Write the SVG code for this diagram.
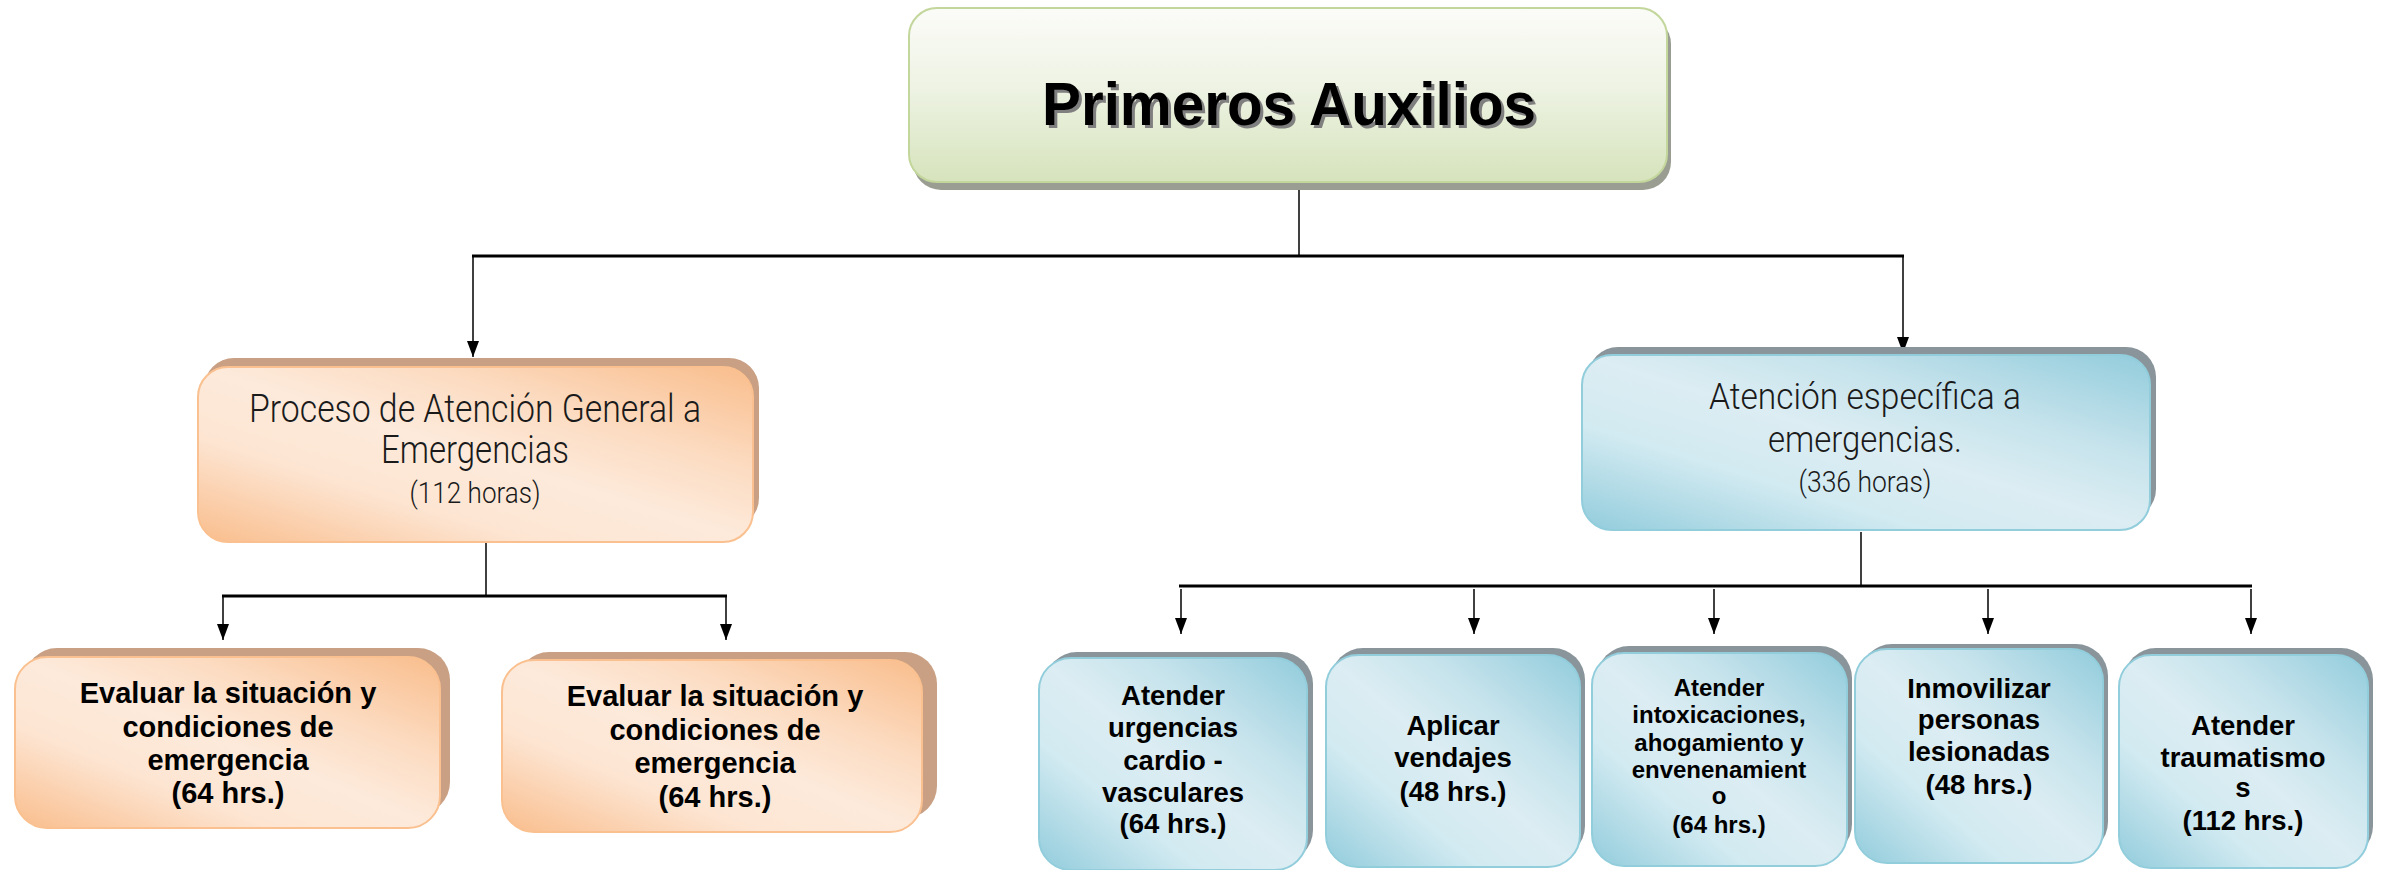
<svg xmlns="http://www.w3.org/2000/svg" width="2383" height="870" viewBox="0 0 2383 870">
<defs>
<linearGradient id="gGreen" x1="0" y1="0" x2="0" y2="1">
<stop offset="0" stop-color="#fbfcf8"/>
<stop offset="0.45" stop-color="#eef3e4"/>
<stop offset="1" stop-color="#d6e3bc"/>
</linearGradient>
<linearGradient id="gOrange" x1="0" y1="1" x2="1" y2="0">
<stop offset="0" stop-color="#f9bd8c"/>
<stop offset="0.3" stop-color="#fde5d2"/>
<stop offset="0.5" stop-color="#fdeadb"/>
<stop offset="0.7" stop-color="#fcdcc2"/>
<stop offset="1" stop-color="#f9bd8c"/>
</linearGradient>
<linearGradient id="gBlue" x1="0" y1="1" x2="1" y2="0">
<stop offset="0" stop-color="#92ccdc"/>
<stop offset="0.3" stop-color="#d2eaf1"/>
<stop offset="0.5" stop-color="#dcedf3"/>
<stop offset="0.7" stop-color="#c6e3ec"/>
<stop offset="1" stop-color="#92ccdc"/>
</linearGradient>
<marker id="arr" markerUnits="userSpaceOnUse" markerWidth="16" markerHeight="12" refX="16" refY="6" orient="auto" viewBox="0 0 16 12">
<path d="M0,0 L16,6 L0,12 Z" fill="#000"/>
</marker>
</defs>
<style>
.sh-g{fill:#9a9e92}
.sh-o{fill:#c9a084}
.sh-b{fill:#89959a}
.box-g{fill:url(#gGreen);stroke:#c3d69b;stroke-width:2}
.box-o{fill:url(#gOrange);stroke:#fac08f;stroke-width:2}
.box-b{fill:url(#gBlue);stroke:#92cddc;stroke-width:2}
.title{font-family:"Liberation Sans",Arial,sans-serif;font-weight:bold;font-size:62px;text-anchor:middle}
.thin{font-family:Roboto,"Liberation Sans",sans-serif;font-weight:300;text-anchor:middle;fill:#1a1a1a}
.bold{font-family:"Liberation Sans",Arial,sans-serif;font-weight:bold;text-anchor:middle;fill:#000}
.vl{stroke:#000;stroke-width:1.5;fill:none}
.hl{stroke:#000;stroke-width:3;fill:none}
</style>

<g id="connectors">
<line class="vl" x1="1299" y1="188" x2="1299" y2="256"/>
<line class="hl" x1="472" y1="256" x2="1904" y2="256"/>
<line class="vl" x1="473" y1="256" x2="473" y2="357" marker-end="url(#arr)"/>
<line class="vl" x1="1903" y1="256" x2="1903" y2="353" marker-end="url(#arr)"/>
<line class="vl" x1="486" y1="543" x2="486" y2="596"/>
<line class="hl" x1="222" y1="596" x2="727" y2="596"/>
<line class="vl" x1="223" y1="597" x2="223" y2="640" marker-end="url(#arr)"/>
<line class="vl" x1="726" y1="597" x2="726" y2="640" marker-end="url(#arr)"/>
<line class="vl" x1="1861" y1="532" x2="1861" y2="586"/>
<line class="hl" x1="1179" y1="586" x2="2252" y2="586"/>
<line class="vl" x1="1181" y1="589" x2="1181" y2="634" marker-end="url(#arr)"/>
<line class="vl" x1="1474" y1="589" x2="1474" y2="634" marker-end="url(#arr)"/>
<line class="vl" x1="1714" y1="589" x2="1714" y2="634" marker-end="url(#arr)"/>
<line class="vl" x1="1988" y1="589" x2="1988" y2="634" marker-end="url(#arr)"/>
<line class="vl" x1="2251" y1="589" x2="2251" y2="634" marker-end="url(#arr)"/>
</g>

<g id="node-primeros-auxilios">
<rect class="sh-g" x="913" y="16" width="758" height="174" rx="28"/>
<rect class="box-g" x="909" y="8" width="758" height="174" rx="28"/>
<text class="title" x="1292" y="128" fill="#7f7f7f" textLength="494" lengthAdjust="spacingAndGlyphs">Primeros Auxilios</text>
<text class="title" x="1289" y="125" fill="#000" textLength="494" lengthAdjust="spacingAndGlyphs">Primeros Auxilios</text>
</g>

<g id="node-proceso">
<rect class="sh-o" x="204" y="358" width="555" height="170" rx="30"/>
<rect class="box-o" x="198" y="367" width="555" height="175" rx="30"/>
<text class="thin" x="475" y="422" font-size="38" textLength="452" lengthAdjust="spacingAndGlyphs">Proceso de Atención General a</text>
<text class="thin" x="475" y="463" font-size="38" textLength="188" lengthAdjust="spacingAndGlyphs">Emergencias</text>
<text class="thin" x="475" y="503" font-size="29" textLength="131" lengthAdjust="spacingAndGlyphs">(112 horas)</text>
</g>

<g id="node-atencion-especifica">
<rect class="sh-b" x="1588" y="347" width="568" height="172" rx="30"/>
<rect class="box-b" x="1582" y="355" width="568" height="175" rx="30"/>
<text class="thin" x="1865" y="409" font-size="37" textLength="312" lengthAdjust="spacingAndGlyphs">Atención específica a</text>
<text class="thin" x="1865" y="452" font-size="37" textLength="194" lengthAdjust="spacingAndGlyphs">emergencias.</text>
<text class="thin" x="1865" y="492" font-size="29" textLength="133" lengthAdjust="spacingAndGlyphs">(336 horas)</text>
</g>

<g id="node-evaluar-1">
<rect class="sh-o" x="25" y="648" width="425" height="166" rx="32"/>
<rect class="box-o" x="15" y="657" width="425" height="171" rx="32"/>
<text class="bold" x="228" y="703" font-size="29">Evaluar la situación y</text>
<text class="bold" x="228" y="737" font-size="29">condiciones de</text>
<text class="bold" x="228" y="770" font-size="29">emergencia</text>
<text class="bold" x="228" y="803" font-size="29">(64 hrs.)</text>
</g>

<g id="node-evaluar-2">
<rect class="sh-o" x="517" y="652" width="420" height="166" rx="32"/>
<rect class="box-o" x="502" y="660" width="420" height="172" rx="32"/>
<text class="bold" x="715" y="706" font-size="29">Evaluar la situación y</text>
<text class="bold" x="715" y="740" font-size="29">condiciones de</text>
<text class="bold" x="715" y="773" font-size="29">emergencia</text>
<text class="bold" x="715" y="807" font-size="29">(64 hrs.)</text>
</g>

<g id="node-cardio">
<rect class="sh-b" x="1045" y="652" width="268" height="210" rx="32"/>
<rect class="box-b" x="1039" y="658" width="268" height="212" rx="32"/>
<text class="bold" x="1173" y="705" font-size="27.5">Atender</text>
<text class="bold" x="1173" y="737" font-size="27.5">urgencias</text>
<text class="bold" x="1173" y="770" font-size="27.5">cardio -</text>
<text class="bold" x="1173" y="802" font-size="27.5">vasculares</text>
<text class="bold" x="1173" y="833" font-size="27.5">(64 hrs.)</text>
</g>

<g id="node-vendajes">
<rect class="sh-b" x="1331" y="648" width="254" height="210" rx="32"/>
<rect class="box-b" x="1326" y="655" width="254" height="212" rx="32"/>
<text class="bold" x="1453" y="735" font-size="27.5">Aplicar</text>
<text class="bold" x="1453" y="767" font-size="27.5">vendajes</text>
<text class="bold" x="1453" y="801" font-size="27.5">(48 hrs.)</text>
</g>

<g id="node-intoxicaciones">
<rect class="sh-b" x="1597" y="646" width="255" height="210" rx="32"/>
<rect class="box-b" x="1592" y="653" width="255" height="213" rx="32"/>
<text class="bold" x="1719" y="696" font-size="24">Atender</text>
<text class="bold" x="1719" y="723" font-size="24">intoxicaciones,</text>
<text class="bold" x="1719" y="751" font-size="24">ahogamiento y</text>
<text class="bold" x="1719" y="778" font-size="24">envenenamient</text>
<text class="bold" x="1719" y="804" font-size="24">o</text>
<text class="bold" x="1719" y="833" font-size="24">(64 hrs.)</text>
</g>

<g id="node-inmovilizar">
<rect class="sh-b" x="1860" y="644" width="248" height="210" rx="32"/>
<rect class="box-b" x="1855" y="649" width="248" height="214" rx="32"/>
<text class="bold" x="1979" y="698" font-size="27.5">Inmovilizar</text>
<text class="bold" x="1979" y="729" font-size="27.5">personas</text>
<text class="bold" x="1979" y="761" font-size="27.5">lesionadas</text>
<text class="bold" x="1979" y="794" font-size="27.5">(48 hrs.)</text>
</g>

<g id="node-traumatismos">
<rect class="sh-b" x="2124" y="648" width="249" height="210" rx="32"/>
<rect class="box-b" x="2119" y="655" width="249" height="213" rx="32"/>
<text class="bold" x="2243" y="735" font-size="27.5">Atender</text>
<text class="bold" x="2243" y="767" font-size="27.5">traumatismo</text>
<text class="bold" x="2243" y="797" font-size="27.5">s</text>
<text class="bold" x="2243" y="830" font-size="27.5">(112 hrs.)</text>
</g>
</svg>
